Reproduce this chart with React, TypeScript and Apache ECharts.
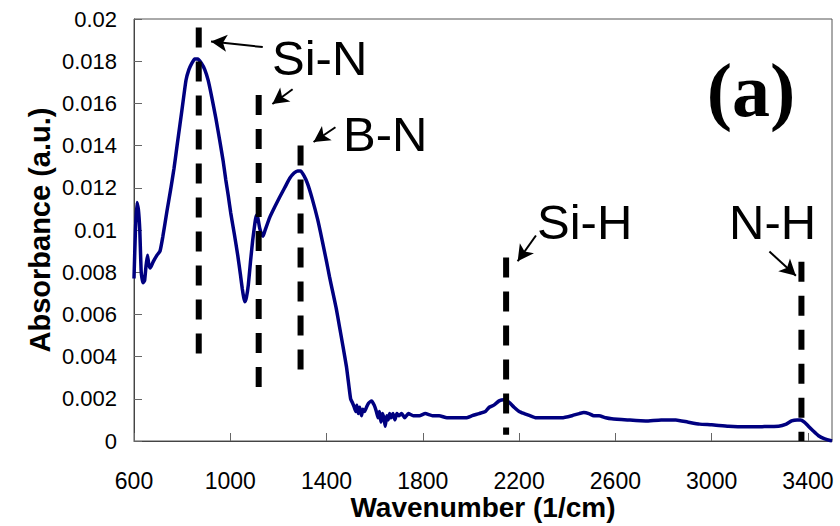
import React, { useEffect, useRef } from "react";
import * as echarts from "echarts";

const wavenumber = [
  600, 606, 612, 618, 624, 630, 637, 644, 650, 656, 661, 668, 680, 695, 708, 720, 737, 752, 766, 779,
  791, 804, 816, 828, 840, 852, 865, 880, 894, 908, 923, 940, 956, 970, 981, 992, 1002, 1017, 1031, 1042,
  1050, 1056, 1061, 1067, 1075, 1084, 1093, 1102, 1108, 1114, 1122, 1130, 1136, 1145, 1164, 1185, 1205, 1226, 1247, 1265,
  1280, 1292, 1305, 1321, 1340, 1363, 1382, 1400, 1412, 1425, 1440, 1454, 1468, 1483, 1493, 1500, 1508, 1515, 1521, 1526,
  1532, 1538, 1545, 1551, 1558, 1566, 1575, 1587, 1598, 1607, 1614, 1620, 1626, 1632, 1638, 1644, 1650, 1656, 1662, 1668,
  1676, 1684, 1692, 1700, 1712, 1725, 1740, 1760, 1786, 1810, 1840, 1868, 1900, 1930, 1951, 1980, 2005, 2034, 2060, 2076,
  2095, 2117, 2138, 2150, 2162, 2179, 2200, 2221, 2245, 2270, 2320, 2378, 2420, 2450, 2469, 2490, 2510, 2532, 2560, 2585,
  2650, 2726, 2790, 2851, 2900, 2950, 3000, 3070, 3141, 3210, 3278, 3310, 3332, 3355, 3369, 3385, 3402, 3420, 3444, 3470,
  3500,
];

const absorbance = [
  0.0077, 0.0100, 0.0113, 0.0110, 0.0100, 0.0080, 0.0075, 0.0076, 0.0083, 0.0088, 0.0084, 0.0082, 0.0085, 0.0088, 0.0090, 0.0097, 0.0109, 0.0119, 0.0129, 0.0140,
  0.0150, 0.0161, 0.0171, 0.0176, 0.0179, 0.0181, 0.0181, 0.0179, 0.0176, 0.0171, 0.0163, 0.0153, 0.01425, 0.0133, 0.0124, 0.0116, 0.0108, 0.0098, 0.0088, 0.0079,
  0.0072, 0.0068, 0.0066, 0.0068, 0.0074, 0.0085, 0.0095, 0.0103, 0.0107, 0.0106, 0.0101, 0.0098, 0.0097, 0.0100, 0.0106, 0.0111, 0.01155, 0.0120, 0.01245, 0.0127,
  0.0128, 0.0128, 0.0126, 0.0122, 0.0115, 0.0105, 0.0095, 0.0085, 0.0078, 0.0071, 0.0063, 0.0054, 0.0045, 0.0035, 0.0026, 0.0020, 0.0018, 0.0016, 0.0014, 0.0017,
  0.0013, 0.0016, 0.0012, 0.0015, 0.0014, 0.0016, 0.0018, 0.0019, 0.0017, 0.0014, 0.0011, 0.0014, 0.0009, 0.0013, 0.0011, 0.0007, 0.0012, 0.0010, 0.0013, 0.0011,
  0.0013, 0.0010, 0.0013, 0.0012, 0.0013, 0.0011, 0.0013, 0.0012, 0.0012, 0.0013, 0.0012, 0.0012, 0.0011, 0.0011, 0.0011, 0.0011, 0.0012, 0.0013, 0.0014, 0.0016,
  0.0017, 0.0019, 0.00195, 0.0019, 0.0018, 0.0016, 0.0014, 0.0013, 0.0012, 0.0011, 0.0011, 0.0011, 0.0012, 0.0013, 0.00135, 0.0013, 0.0012, 0.0012, 0.0011, 0.00105,
  0.0010, 0.00095, 0.0010, 0.0010, 0.0009, 0.0008, 0.00077, 0.0007, 0.00067, 0.00068, 0.0007, 0.0008, 0.00095, 0.0010, 0.0010, 0.0009, 0.0007, 0.0005, 0.00025, 0.0001,
  0.0,
];

const xTicks = { min: 600, max: 3500, interval: 400 };
const yTicks = { min: 0, max: 0.02, interval: 0.002 };

// dashed marker lines (band positions)
const markerX = [869, 1118, 1292, 2146, 3373];
const markerTop = [0.0196, 0.0164, 0.0140, 0.0087, 0.0085];
const markerBottom = [0.0038, 0.0024, 0.0032, 0.0003, 0.0];

// arrows (data coordinates)
const arrowFrom: [number, number][] = [
  [1135, 0.01867],
  [1259, 0.01667],
  [1437, 0.01487],
  [2270, 0.00974],
  [3240, 0.00898],
];
const arrowTo: [number, number][] = [
  [920, 0.01893],
  [1175, 0.01597],
  [1346, 0.01417],
  [2194, 0.00852],
  [3350, 0.00783],
];

const bandLabels = ["Si-N", "B-N", "Si-H", "N-H"];
const panelLabel = "(a)";

export default function App() {
  const ref = useRef<HTMLDivElement>(null);
  useEffect(() => {
    if (!ref.current) return;
    const chart = echarts.init(ref.current, null, { renderer: "svg" });
    const markerSeries = markerX.map((x, i) => ({
      type: "line",
      silent: true,
      symbol: "none",
      data: [
        [x, markerTop[i]],
        [x, markerBottom[i]],
      ],
      lineStyle: { color: "#000", width: 6, type: [20, 14], cap: "butt" },
      z: 3,
    }));
    const labelFont = "49px 'Liberation Sans', Arial, sans-serif";
    chart.setOption({
      animation: false,
      backgroundColor: "#fff",
      grid: {
        left: 134,
        right: 8,
        top: 19,
        bottom: 85,
        outerBoundsMode: "none",
        containLabel: false,
        show: true,
        borderColor: "#555",
        borderWidth: 1,
      },
      xAxis: {
        type: "value",
        min: xTicks.min,
        max: xTicks.max,
        interval: xTicks.interval,
        name: "Wavenumber (1/cm)",
        nameLocation: "middle",
        nameGap: 53,
        nameMoveOverlap: false,
        nameTextStyle: {
          fontFamily: "'Liberation Sans', Arial, sans-serif",
          fontWeight: "bold",
          fontSize: 28,
          lineHeight: 26,
          color: "#000",
        },
        axisLine: { lineStyle: { color: "#444", width: 1 } },
        axisTick: { inside: true, length: 8, lineStyle: { color: "#666" } },
        axisLabel: {
          showMaxLabel: false,
          margin: 30,
          fontFamily: "'Liberation Sans', Arial, sans-serif",
          fontSize: 23,
          lineHeight: 20,
          color: "#000",
          formatter: (v: number) => String(v),
        },
        splitLine: { show: false },
      },
      yAxis: {
        type: "value",
        min: yTicks.min,
        max: yTicks.max,
        interval: yTicks.interval,
        name: "Absorbance (a.u.)",
        nameLocation: "middle",
        nameGap: 80,
        nameMoveOverlap: false,
        nameTextStyle: {
          fontFamily: "'Liberation Sans', Arial, sans-serif",
          fontWeight: "bold",
          fontSize: 29,
          color: "#000",
        },
        axisLine: { show: true, lineStyle: { color: "#444", width: 1 } },
        axisTick: { show: true, inside: true, length: 8, lineStyle: { color: "#666" } },
        axisLabel: {
          margin: 17,
          fontFamily: "'Liberation Sans', Arial, sans-serif",
          fontSize: 22,
          color: "#000",
          formatter: (v: number) => (v === 0 ? "0" : String(+v.toFixed(3))),
        },
        splitLine: { show: false },
      },
      series: [
        {
          type: "line",
          data: wavenumber.map((w, i) => [w, absorbance[i]]),
          showSymbol: false,
          symbol: "none",
          smooth: 0.15,
          lineStyle: { color: "#000080", width: 3.5 },
          z: 2,
        },
        ...markerSeries,
        {
          type: "line",
          data: [],
          silent: true,
          markLine: {
            silent: true,
            symbol: ["none", "arrow"],
            symbolSize: [13, 16],
            label: { show: false },
            lineStyle: { color: "#000", width: 2, type: "solid" },
            data: arrowFrom.map((f, i) => [{ coord: f }, { coord: arrowTo[i] }]),
          },
        },
      ],
      graphic: [
        { type: "text", x: 272, y: 58, style: { text: bandLabels[0], font: labelFont, fill: "#000", verticalAlign: "middle" } },
        { type: "text", x: 343, y: 134, style: { text: bandLabels[1], font: labelFont, fill: "#000", verticalAlign: "middle" } },
        { type: "text", x: 537, y: 222, style: { text: bandLabels[2], font: labelFont, fill: "#000", verticalAlign: "middle" } },
        { type: "text", x: 729, y: 222, style: { text: bandLabels[3], font: labelFont, fill: "#000", verticalAlign: "middle" } },
        {
          type: "text",
          x: 751,
          y: 90,
          style: {
            text: panelLabel,
            font: "bold 76px 'Liberation Serif', 'Times New Roman', serif",
            fill: "#000",
            align: "center",
            verticalAlign: "middle",
          },
        },
      ],
    });
    return () => chart.dispose();
  }, []);
  return (
    <div
      ref={ref}
      style={{ position: "fixed", left: 0, top: 0, width: 840, height: 526 }}
    />
  );
}
